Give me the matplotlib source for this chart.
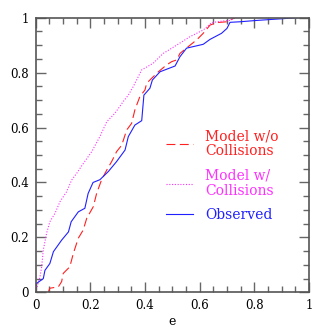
import matplotlib
matplotlib.use("Agg")
import matplotlib.pyplot as plt
from matplotlib.ticker import MultipleLocator, FuncFormatter

# cumulative distributions of eccentricity e
obs_e = [0.0, 0.028, 0.034, 0.052, 0.065, 0.095, 0.12, 0.13, 0.156, 0.18, 0.192,
         0.21, 0.235, 0.266, 0.296, 0.327, 0.339, 0.363, 0.388, 0.396, 0.418,
         0.427, 0.455, 0.51, 0.528, 0.552, 0.613, 0.638, 0.68, 0.70, 0.711,
         0.747, 0.81, 0.96]
obs_cdf = [0.03, 0.05, 0.08, 0.105, 0.148, 0.19, 0.22, 0.257, 0.293, 0.306, 0.36,
           0.40, 0.41, 0.44, 0.476, 0.518, 0.567, 0.609, 0.625, 0.718, 0.743,
           0.773, 0.803, 0.824, 0.858, 0.889, 0.903, 0.921, 0.943, 0.961, 0.983,
           0.985, 0.99, 1.0]

nocol_e = [0.046, 0.052, 0.083, 0.095, 0.101, 0.125, 0.138, 0.156, 0.174, 0.187,
           0.211, 0.223, 0.241, 0.26, 0.278, 0.296, 0.315, 0.333, 0.351, 0.363,
           0.381, 0.40, 0.406, 0.424, 0.449, 0.479, 0.498, 0.516, 0.528, 0.565,
           0.589, 0.613, 0.638, 0.662, 0.699, 0.729]
nocol_cdf = [0.0, 0.015, 0.02, 0.039, 0.069, 0.093, 0.142, 0.197, 0.227, 0.27,
             0.312, 0.36, 0.409, 0.445, 0.476, 0.512, 0.536, 0.591, 0.615, 0.664,
             0.712, 0.737, 0.761, 0.779, 0.803, 0.828, 0.84, 0.846, 0.87, 0.90,
             0.919, 0.943, 0.973, 0.982, 0.985, 1.0]

col_e = [0.0, 0.004, 0.016, 0.022, 0.028, 0.04, 0.052, 0.071, 0.089, 0.113, 0.132,
         0.15, 0.168, 0.205, 0.235, 0.26, 0.29, 0.32, 0.339, 0.357, 0.388, 0.43,
         0.467, 0.516, 0.565, 0.613, 0.644, 0.686, 0.711, 0.73]
col_cdf = [0.0, 0.015, 0.057, 0.093, 0.154, 0.215, 0.257, 0.288, 0.33, 0.366, 0.409,
           0.433, 0.46, 0.512, 0.567, 0.621, 0.652, 0.694, 0.718, 0.749, 0.81, 0.834,
           0.87, 0.90, 0.931, 0.955, 0.982, 0.988, 0.99, 1.0]

plt.rcParams["font.family"] = ["DejaVu Serif"]

fig = plt.figure(figsize=(3.27, 3.27), dpi=100)
ax = fig.add_axes([0.109, 0.106, 0.836, 0.840])

ax.plot(nocol_e, nocol_cdf, color="#ff2020", lw=0.8, dashes=(8, 4),
        label="Model w/o\nCollisions")
ax.plot(col_e, col_cdf, color="#ff30ff", lw=0.8, linestyle=(0, (1, 1.5)),
        label="Model w/\nCollisions")
ax.plot(obs_e, obs_cdf, color="#2020ff", lw=0.8, label="Observed")

ax.set_xlim(0, 1)
ax.set_ylim(0, 1)
fmt = FuncFormatter(lambda v, p: f"{v:g}")
for axis in (ax.xaxis, ax.yaxis):
    axis.set_major_locator(MultipleLocator(0.2))
    axis.set_minor_locator(MultipleLocator(0.05))
    axis.set_major_formatter(fmt)
ax.tick_params(which="both", direction="in", top=True, right=True,
               color="#666666", labelsize=8.5, pad=5)
ax.tick_params(which="major", length=7, width=1)
ax.tick_params(which="minor", length=4, width=1)
for s in ax.spines.values():
    s.set_color("#555555")
    s.set_linewidth(1.2)

ax.set_xlabel("e", fontsize=9, labelpad=2)

leg = ax.legend(loc="upper left", bbox_to_anchor=(0.432, 0.64), frameon=False,
                fontsize=10, handlelength=1.9, handletextpad=0.9,
                labelspacing=0.75, labelcolor="linecolor")
for t in leg.get_texts():
    t.set_linespacing(1.1)

fig.savefig("out.png", dpi=100)
